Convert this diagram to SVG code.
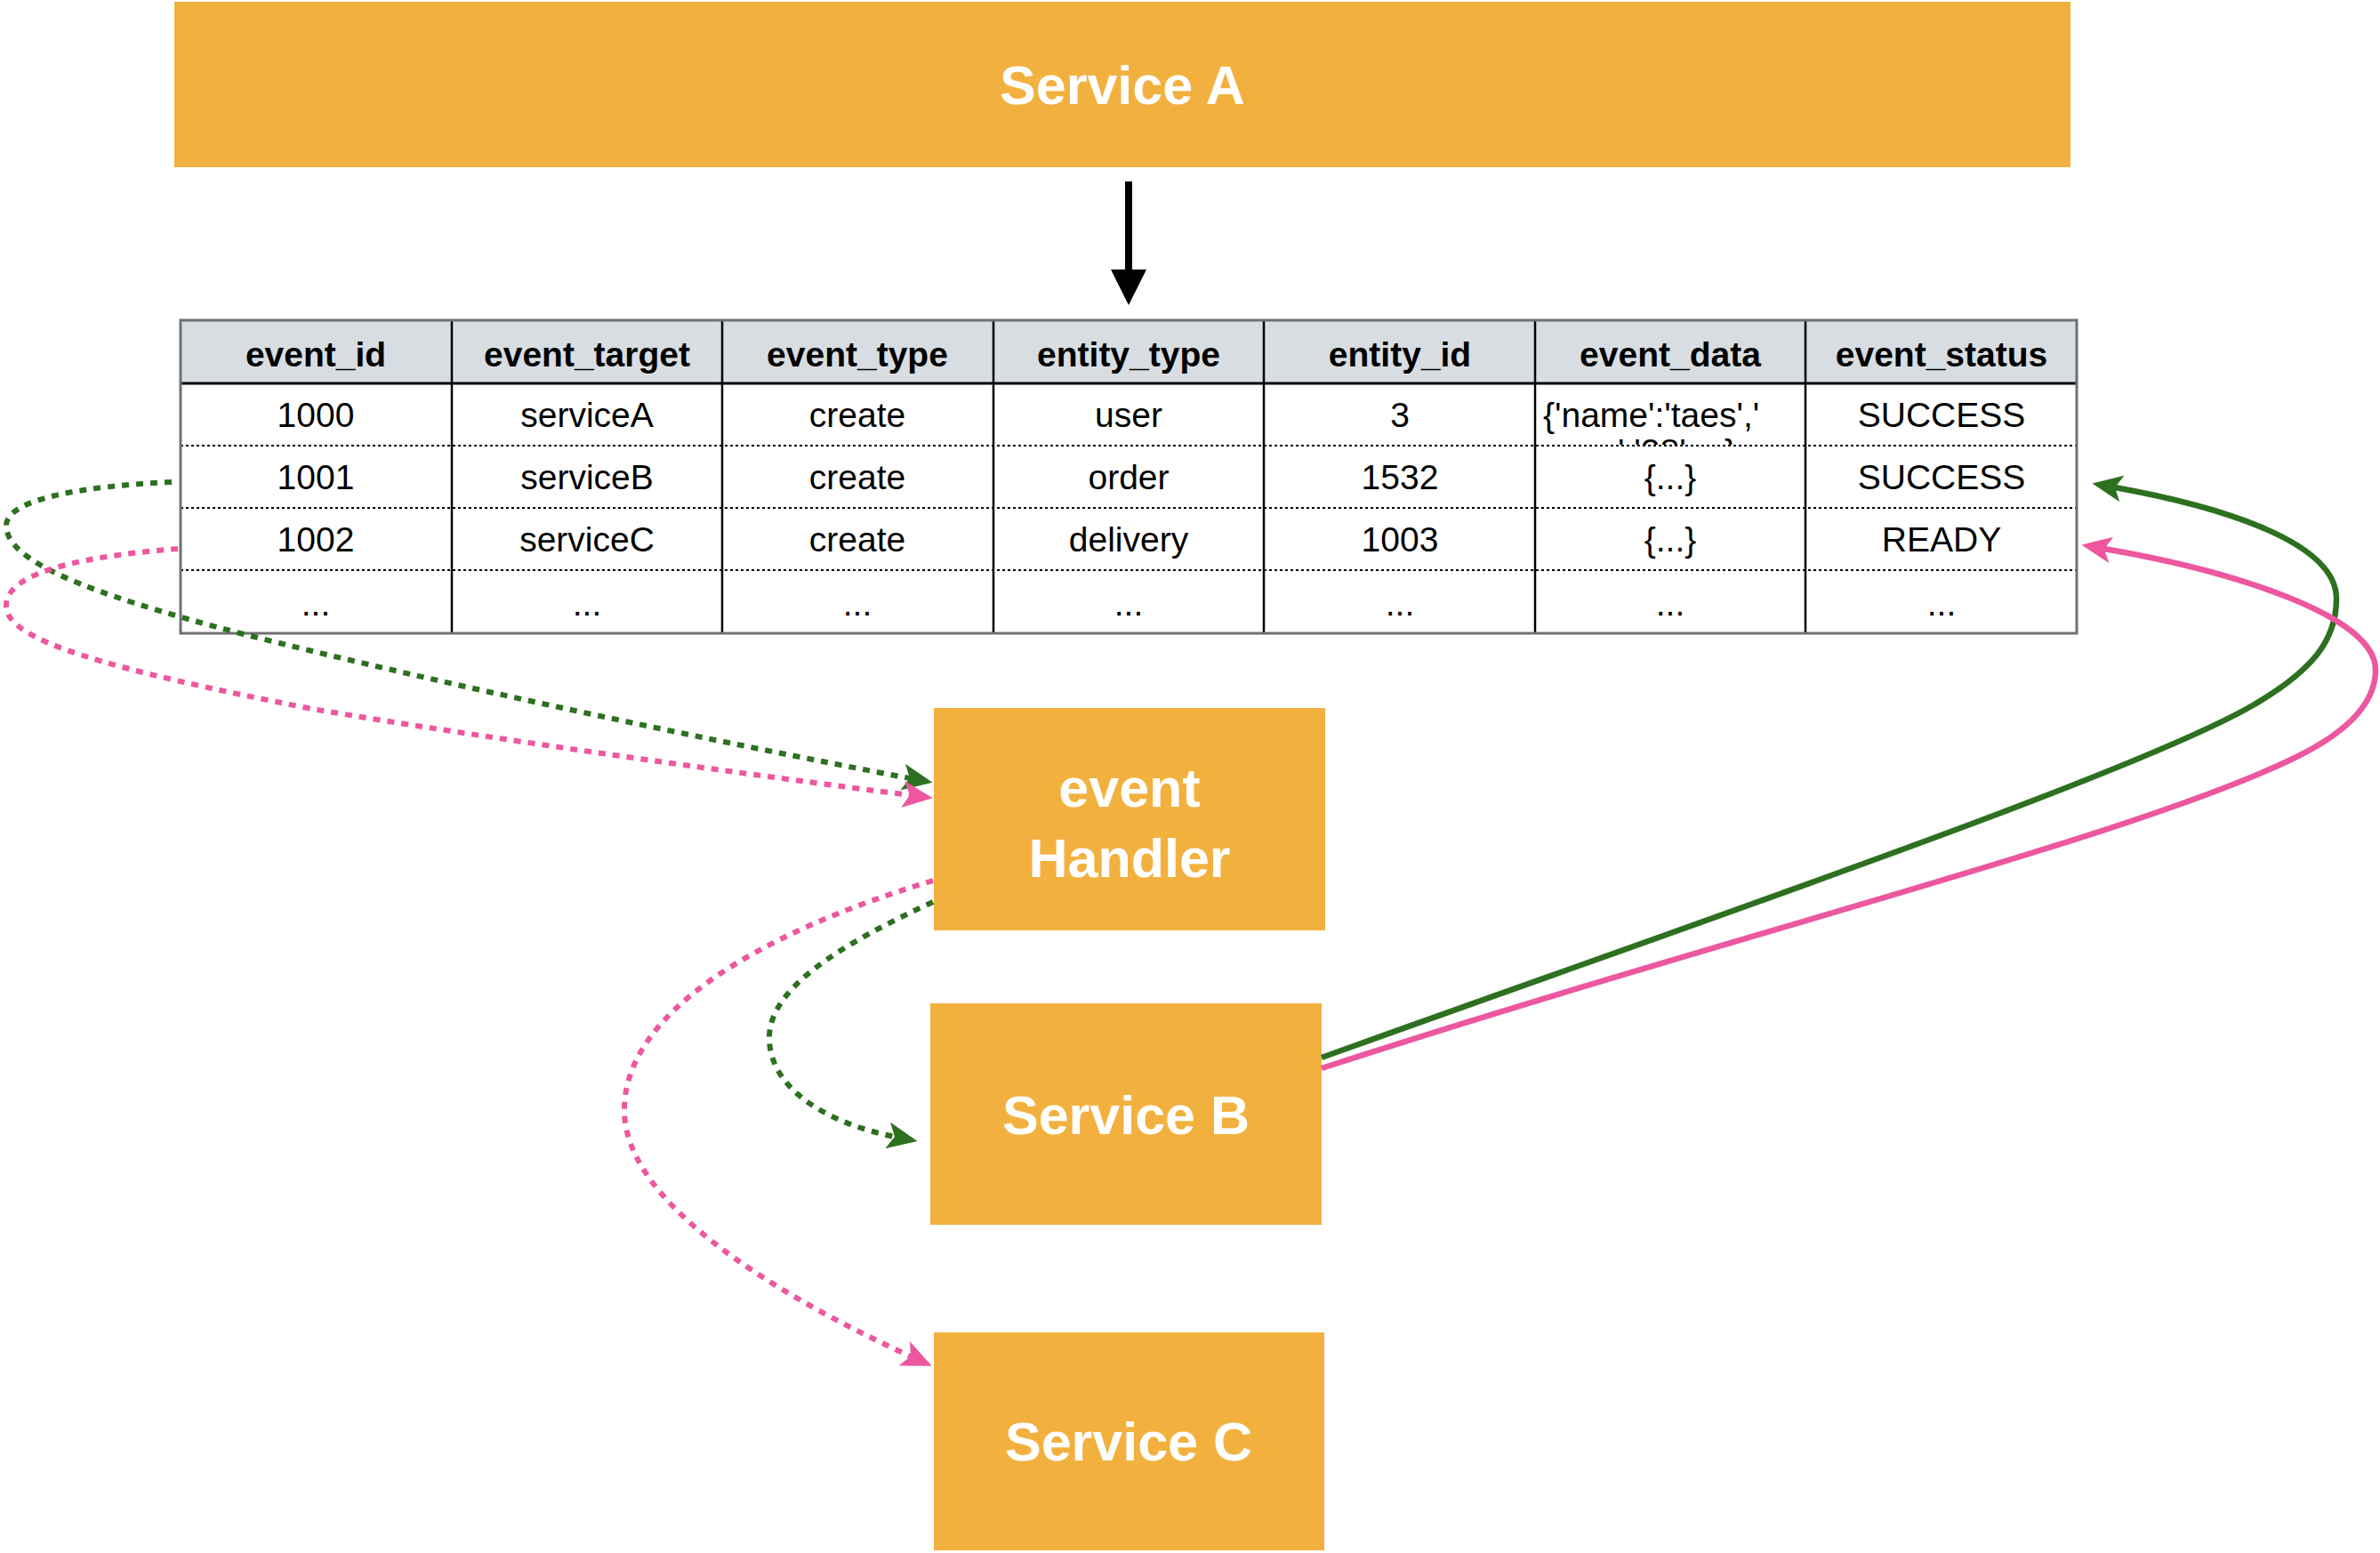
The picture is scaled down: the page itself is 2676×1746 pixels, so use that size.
<svg xmlns="http://www.w3.org/2000/svg" width="2676" height="1746" viewBox="0 0 2676 1746">
<defs>
<style>
.box{fill:#F2B13E;}
.lbl{font-family:"Liberation Sans",Arial,Helvetica,sans-serif;font-weight:bold;font-size:61px;fill:#FFFFFF;text-anchor:middle;}
.th{font-family:"Liberation Sans",Arial,Helvetica,sans-serif;font-weight:bold;font-size:39px;fill:#000;text-anchor:middle;}
.td{font-family:"Liberation Sans",Arial,Helvetica,sans-serif;font-size:39px;fill:#000;text-anchor:middle;}
.tdl{font-family:"Liberation Sans",Arial,Helvetica,sans-serif;font-size:39px;fill:#000;}
.vline{stroke:#000;stroke-width:2.5;}
.dline{stroke:#000;stroke-width:2;stroke-dasharray:3 3;}
.gdot{fill:none;stroke:#2D7020;stroke-width:6;stroke-dasharray:8 8;}
.pdot{fill:none;stroke:#EC579F;stroke-width:6;stroke-dasharray:8 8;}
.gsol{fill:none;stroke:#2D7020;stroke-width:6.5;}
.psol{fill:none;stroke:#EC579F;stroke-width:6.5;}
</style>
<marker id="arrG" viewBox="0 0 34 30" refX="8" refY="15" markerWidth="34" markerHeight="30" markerUnits="userSpaceOnUse" orient="auto"><path d="M0,0 L34,15 L0,30 L8,15 Z" fill="#2D7020"/></marker>
<marker id="arrP" viewBox="0 0 34 30" refX="8" refY="15" markerWidth="34" markerHeight="30" markerUnits="userSpaceOnUse" orient="auto"><path d="M0,0 L34,15 L0,30 L8,15 Z" fill="#EC579F"/></marker>
<marker id="arrB" viewBox="0 0 40 40" refX="0" refY="20" markerWidth="40" markerHeight="40" markerUnits="userSpaceOnUse" orient="auto"><path d="M0,0 L40,20 L0,40 Z" fill="#000"/></marker>
<clipPath id="cellClip"><rect x="1727" y="432" width="302" height="68"/></clipPath>
</defs>
<rect x="0" y="0" width="2676" height="1746" fill="#FFFFFF"/>

<g id="node-serviceA">
<rect class="box" x="196" y="2" width="2132" height="186"/>
<text class="lbl" x="1262" y="117">Service A</text>
</g>

<g id="node-eventTable">
<rect x="203" y="360" width="2132" height="352" fill="#FFFFFF"/>
<rect x="203" y="360" width="2132" height="71" fill="#D8DDE2"/>
<line class="dline" x1="203" y1="501" x2="2335" y2="501"/>
<line class="dline" x1="203" y1="571" x2="2335" y2="571"/>
<line class="dline" x1="203" y1="641" x2="2335" y2="641"/>
<line x1="203" y1="431" x2="2335" y2="431" stroke="#000" stroke-width="3"/>
<line class="vline" x1="508" y1="360" x2="508" y2="712"/>
<line class="vline" x1="812" y1="360" x2="812" y2="712"/>
<line class="vline" x1="1117" y1="360" x2="1117" y2="712"/>
<line class="vline" x1="1421" y1="360" x2="1421" y2="712"/>
<line class="vline" x1="1726" y1="360" x2="1726" y2="712"/>
<line class="vline" x1="2030" y1="360" x2="2030" y2="712"/>
<rect x="203" y="360" width="2132" height="352" fill="none" stroke="#707070" stroke-width="3"/>
<text class="th" x="355" y="412">event_id</text>
<text class="th" x="660" y="412">event_target</text>
<text class="th" x="964" y="412">event_type</text>
<text class="th" x="1269" y="412">entity_type</text>
<text class="th" x="1574" y="412">entity_id</text>
<text class="th" x="1878" y="412">event_data</text>
<text class="th" x="2183" y="412">event_status</text>
<text class="td" x="355" y="480">1000</text>
<text class="td" x="660" y="480">serviceA</text>
<text class="td" x="964" y="480">create</text>
<text class="td" x="1269" y="480">user</text>
<text class="td" x="1574" y="480">3</text>
<text class="tdl" x="1735" y="480">{'name':'taes','</text>
<text class="tdl" x="1754" y="521" clip-path="url(#cellClip)">age':'28',...}</text>
<text class="td" x="2183" y="480">SUCCESS</text>
<text class="td" x="355" y="550">1001</text>
<text class="td" x="660" y="550">serviceB</text>
<text class="td" x="964" y="550">create</text>
<text class="td" x="1269" y="550">order</text>
<text class="td" x="1574" y="550">1532</text>
<text class="td" x="1878" y="550">{...}</text>
<text class="td" x="2183" y="550">SUCCESS</text>
<text class="td" x="355" y="620">1002</text>
<text class="td" x="660" y="620">serviceC</text>
<text class="td" x="964" y="620">create</text>
<text class="td" x="1269" y="620">delivery</text>
<text class="td" x="1574" y="620">1003</text>
<text class="td" x="1878" y="620">{...}</text>
<text class="td" x="2183" y="620">READY</text>
<text class="td" x="355" y="692">...</text>
<text class="td" x="660" y="692">...</text>
<text class="td" x="964" y="692">...</text>
<text class="td" x="1269" y="692">...</text>
<text class="td" x="1574" y="692">...</text>
<text class="td" x="1878" y="692">...</text>
<text class="td" x="2183" y="692">...</text>
</g>

<g id="node-eventHandler">
<rect class="box" x="1050" y="796" width="440" height="250"/>
<text class="lbl" x="1270" y="907">event</text>
<text class="lbl" x="1270" y="986">Handler</text>
</g>

<g id="node-serviceB">
<rect class="box" x="1046" y="1128" width="440" height="249"/>
<text class="lbl" x="1266" y="1275">Service B</text>
</g>

<g id="node-serviceC">
<rect class="box" x="1050" y="1498" width="439" height="245"/>
<text class="lbl" x="1269" y="1642">Service C</text>
</g>

<g id="connectors">
<line x1="1269" y1="204" x2="1269" y2="303" stroke="#000" stroke-width="8" marker-end="url(#arrB)"/>
<path class="gdot" d="M193,542 C100,546 5,560 7,592 C9,630 90,665 274,713 C500,770 800,833 1023,875" marker-end="url(#arrG)"/>
<path class="pdot" d="M200,617 C110,624 5,640 7,682 C8,720 120,752 351,797 C560,832 850,872 1023,894" marker-end="url(#arrP)"/>
<path class="gdot" d="M1049,1014 C950,1060 862,1110 865,1170 C868,1230 940,1265 1006,1278" marker-end="url(#arrG)"/>
<path class="pdot" d="M1049,990 C850,1050 700,1140 702,1250 C704,1350 860,1450 1024,1525" marker-end="url(#arrP)"/>
<path class="gsol" d="M1486,1189 C1900,1040 2400,870 2533,793 C2600,754 2627,720 2627,673 C2627,610 2500,570 2378,548" marker-end="url(#arrG)"/>
<path class="psol" d="M1486,1201 C1950,1050 2400,940 2580,852 C2640,823 2671,790 2671,753 C2671,690 2500,640 2366,617" marker-end="url(#arrP)"/>
</g>
</svg>
